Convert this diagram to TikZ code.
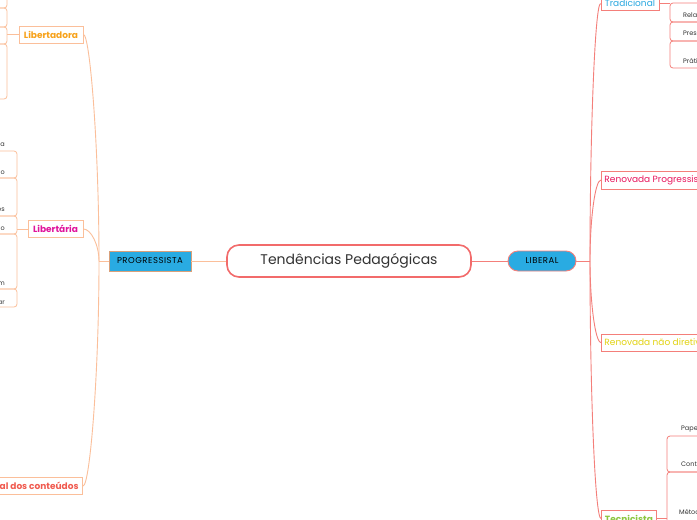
\documentclass[tikz,border=0pt]{standalone}
\usepackage{fontspec}
\setmainfont{Poppins}
\definecolor{libline}{HTML}{F47F7A}
\definecolor{progline}{HTML}{FBBF9A}
\definecolor{centerred}{HTML}{F26B6B}
\definecolor{bluefill}{HTML}{29ABE2}
\definecolor{progborder}{HTML}{D9A07A}
\definecolor{tradblue}{HTML}{29A8E0}
\definecolor{renpink}{HTML}{E8175D}
\definecolor{renyellow}{HTML}{E2D312}
\definecolor{tecgreen}{HTML}{8CC63F}
\definecolor{doraorange}{HTML}{F7A21B}
\definecolor{tariamag}{HTML}{E0149C}
\definecolor{criticored}{HTML}{F05A4F}
\definecolor{textgray}{HTML}{333333}
\tikzset{
  central/.style={draw=centerred, line width=1.6pt, fill=white, rounded corners=12pt,
    minimum width=244pt, minimum height=32pt, text=textgray, font=\fontsize{14}{16}\selectfont},
  mainbox/.style={fill=bluefill, line width=0.9pt, minimum height=20pt, inner xsep=0pt,
    text=black, font=\fontsize{8.5}{9}\selectfont\addfontfeature{LetterSpace=6}},
  childL/.style={draw=progline, line width=0.9pt, fill=white, minimum height=17pt,
    inner xsep=4pt, inner ysep=0pt, font=\fontsize{9}{10}\selectfont\bfseries},
  childR/.style={draw=libline, line width=0.9pt, fill=white, minimum height=17pt,
    inner xsep=3pt, inner ysep=0pt, font=\fontsize{9}{10}\selectfont},
  conP/.style={draw=progline, line width=0.9pt},
  conL/.style={draw=libline, line width=0.9pt},
  brP/.style={draw=progline, line width=0.8pt, rounded corners=3pt},
  brL/.style={draw=libline, line width=0.8pt, rounded corners=3pt},
  frag/.style={text=textgray, font=\fontsize{6.5}{7}\selectfont, inner sep=0pt},
}
\begin{document}
\begin{tikzpicture}[x=1pt, y=-1pt]
\useasboundingbox (0,0) rectangle (697,520);
\fill[white] (0,0) rectangle (697,520);
\clip (0,0) rectangle (697,520);

% central and main nodes
\node[central] (c) at (349,261) {Tendências Pedagógicas\hspace{11pt}};
\node[mainbox, draw=libline, rounded corners=10pt, minimum width=68pt] (lib) at (542,261) {LIBERAL};
\node[mainbox, draw=progborder, minimum width=82pt] (prog) at (150,261) {PROGRESSISTA};

\draw[conL] (c.east) -- (lib.west);
\draw[conP] (c.west) -- (prog.east);

% trunk points
\coordinate (tl) at (590,261);
\coordinate (tp) at (99,261);
\draw[conL] (lib.east) -- (tl);
\draw[conP] (prog.west) -- (tp);

% progressista children
\node[childL, text=doraorange, minimum width=64pt] (dora) at (51,34.5) {Libertadora};
\node[childL, text=tariamag, minimum width=55pt] (taria) at (55.5,229) {Libertária};
\node[childL, text=criticored, anchor=east] (crit) at (83,486) {Crítico-social dos conteúdos};

\draw[conP] (tp) .. controls (99,148) and (90,34.5) .. (dora.east);
\draw[conP] (tp) .. controls (99,245) and (91,229) .. (taria.east);
\draw[conP] (tp) .. controls (99,373) and (90,486) .. (crit.east);

% liberal children
\node[childR, text=tradblue, minimum width=58pt, minimum height=13pt] (trad) at (630,3.5) {Tradicional};
\node[childR, text=renpink, anchor=west, minimum height=18pt] (rprog) at (601,180) {Renovada Progressista};
\node[childR, text=renyellow, anchor=west] (rnd) at (601,342.5) {Renovada não diretiva};
\node[childR, text=tecgreen, anchor=west, minimum width=55pt, font=\fontsize{9}{10}\selectfont\bfseries] (tec) at (601,518.5) {Tecnicista};

\draw[conL] (tl) .. controls (590,132) and (595,4) .. (trad.west);
\draw[conL] (tl) .. controls (590,220) and (595,180) .. (rprog.west);
\draw[conL] (tl) .. controls (590,300) and (595,342.5) .. (rnd.west);
\draw[conL] (tl) .. controls (590,390) and (595,518.5) .. (tec.west);

% Libertadora brackets
\coordinate (bdora) at (7,34.5);
\draw[conP, line width=1.4pt] (dora.west) -- (bdora);
\draw[brP] (0,-10) -- (7,-10) -- (7,8) -- (0,8);
\draw[brP] (0,8) -- (7,8) -- (7,27) -- (0,27);
\draw[brP] (0,27) -- (7,27) -- (7,44) -- (0,44);
\draw[brP] (0,44) -- (7,44) -- (7,99) -- (0,99);

% Libertaria brackets
\coordinate (btaria) at (17,229);
\draw[conP] (taria.west) -- (btaria);
\draw[brP] (0,151) -- (17,151) -- (17,178) -- (0,178);
\draw[brP] (0,178) -- (17,178) -- (17,216) -- (0,216);
\draw[brP] (0,216) -- (17,216) -- (17,234) -- (0,234);
\draw[brP] (0,234) -- (17,234) -- (17,289) -- (0,289);
\draw[brP] (0,289) -- (17,289) -- (17,307) -- (0,307);
\node[frag, anchor=base east] (f1) at (5,146) {ia};
\node[frag, anchor=base east] (f2) at (5,174) {ão};
\node[frag, anchor=base east] (f3) at (5,211) {os};
\node[frag, anchor=base east] (f4) at (5,230) {ão};
\node[frag, anchor=base east] (f5) at (5,285) {em};
\node[frag, anchor=base east] (f6) at (5,304) {ar};

% Tradicional brackets
\coordinate (btrad) at (670,3);
\draw[conL] (trad.east |- btrad) -- (btrad);
\draw[brL] (697,3) -- (670,3) -- (670,22) -- (697,22);
\draw[brL] (697,22) -- (670,22) -- (670,41) -- (697,41);
\draw[brL] (697,41) -- (670,41) -- (670,68) -- (697,68);
\node[frag, anchor=base west] (g1) at (683,17) {Relação};
\node[frag, anchor=base west] (g2) at (683,35) {Pressupostos};
\node[frag, anchor=base west] (g3) at (683,63) {Prática};

% Tecnicista brackets
\coordinate (btec) at (667,518.5);
\draw[conL] (tec.east) -- (btec);
\draw[brL] (697,436) -- (667,436) -- (667,472) -- (697,472);
\draw[brL] (697,472) -- (667,472) -- (667,530) -- (697,530);
\node[frag, anchor=base west] (h1) at (681,430) {Papel};
\node[frag, anchor=base west] (h2) at (681,466) {Conteúdos};
\node[frag, anchor=base west] (h3) at (679,514) {Métodos};
\end{tikzpicture}
\end{document}
